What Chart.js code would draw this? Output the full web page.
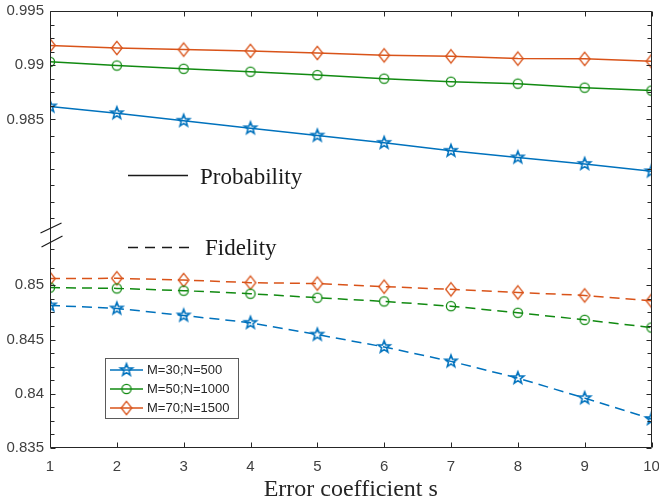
<!DOCTYPE html>
<html><head><meta charset="utf-8">
<script src="https://cdn.jsdelivr.net/npm/chart.js@4"></script>
<style>html,body{margin:0;padding:0;background:#fff}canvas{display:block}</style>
</head><body>
<canvas id="c" width="659" height="502"></canvas>
<script>
// ---------- data ----------
const sValues = [1, 2, 3, 4, 5, 6, 7, 8, 9, 10];
const seriesNames = ['M=30;N=500', 'M=50;N=1000', 'M=70;N=1500'];
const probM30 = [0.98620, 0.98558, 0.98488, 0.98419, 0.98351, 0.98284, 0.98211, 0.98150, 0.98090, 0.98022];
const probM50 = [0.99031, 0.98997, 0.98967, 0.98940, 0.98909, 0.98876, 0.98848, 0.98830, 0.98793, 0.98766];
const probM70 = [0.99183, 0.99159, 0.99144, 0.99132, 0.99113, 0.99091, 0.99082, 0.99061, 0.99059, 0.99037];
const fidM30 = [0.84815, 0.84787, 0.84722, 0.84655, 0.84546, 0.84432, 0.84299, 0.84145, 0.83960, 0.83768];
const fidM50 = [0.84979, 0.84972, 0.84951, 0.84923, 0.84886, 0.84852, 0.84808, 0.84747, 0.84682, 0.84611];
const fidM70 = [0.85062, 0.85065, 0.85049, 0.85025, 0.85016, 0.84988, 0.84963, 0.84935, 0.84907, 0.84858];
const yMajorTicks = [0.995, 0.99, 0.985, 0.85, 0.845, 0.84, 0.835];
const yTickLabels = ['0.995', '0.99', '0.985', '0.85', '0.845', '0.84', '0.835'];
const yMinorTicks = [0.99375, 0.9925, 0.99125, 0.98875, 0.9875, 0.98625, 0.98348, 0.98196, 0.98044, 0.97892, 0.9774, 0.97588,
                     0.85333, 0.85164, 0.84875, 0.8475, 0.84625, 0.84375, 0.8425, 0.84125, 0.83875, 0.8375, 0.83625];
const xTickLabels = ['1', '2', '3', '4', '5', '6', '7', '8', '9', '10'];
const xTitle = 'Error coefficient s';
const styleLegendLabels = ['Probability', 'Fidelity'];

// ---------- broken axis mapping ----------
const BREAK_SHIFT = 0.1197;           // upper segment (0.97x–0.995) drawn shifted down
const Y_MIN = 0.835, Y_MAX = 0.995 - BREAK_SHIFT;
const toAxis = v => (v > 0.9 ? v - BREAK_SHIFT : v);

const COLORS = ['#0072BD', '#118a11', '#D95319'];
const AXIS = '#262626';
const TXT = '#404040';

// ---------- markers ----------
function makeMarker(kind, color) {
  const c = document.createElement('canvas');
  c.width = 18; c.height = 18;
  const g = c.getContext('2d');
  g.strokeStyle = color; g.lineWidth = kind === 'star' ? 1.6 : 1.3; g.lineJoin = 'miter';
  const cx = 9, cy = 9;
  g.beginPath();
  if (kind === 'star') {
    const R = 6.3, r = R * 0.42;
    for (let i = 0; i < 10; i++) {
      const rad = i % 2 === 0 ? R : r;
      const a = -Math.PI / 2 + i * Math.PI / 5;
      const px = cx + rad * Math.cos(a), py = cy + rad * Math.sin(a);
      i === 0 ? g.moveTo(px, py) : g.lineTo(px, py);
    }
    g.closePath();
  } else if (kind === 'circle') {
    g.arc(cx, cy, 4.6, 0, Math.PI * 2);
  } else {
    g.moveTo(cx, cy - 6.6); g.lineTo(cx + 5.3, cy); g.lineTo(cx, cy + 6.6); g.lineTo(cx - 5.3, cy); g.closePath();
  }
  g.stroke();
  return c;
}
const markers = [makeMarker('star', COLORS[0]), makeMarker('circle', COLORS[1]), makeMarker('diamond', COLORS[2])];

function ds(label, vals, i, dashed) {
  return {
    label, data: sValues.map((s, k) => ({x: s, y: toAxis(vals[k])})),
    borderColor: COLORS[i], backgroundColor: COLORS[i], borderWidth: 1.5,
    borderDash: dashed ? [10, 6] : [], pointStyle: markers[i], pointRadius: 6,
    tension: 0, fill: false
  };
}

const datasets = [
  ds(seriesNames[0] + ' ' + styleLegendLabels[0], probM30, 0, false),
  ds(seriesNames[1] + ' ' + styleLegendLabels[0], probM50, 1, false),
  ds(seriesNames[2] + ' ' + styleLegendLabels[0], probM70, 2, false),
  ds(seriesNames[0] + ' ' + styleLegendLabels[1], fidM30, 0, true),
  ds(seriesNames[1] + ' ' + styleLegendLabels[1], fidM50, 1, true),
  ds(seriesNames[2] + ' ' + styleLegendLabels[1], fidM70, 2, true),
];

// ---------- plugin: box, inward ticks, break, annotations, legend ----------
const decor = {
  id: 'decor',
  afterDatasetsDraw(chart) {
    const {ctx, chartArea: ca, scales: {x, y}} = chart;
    const L = Math.round(ca.left) + 0.5, R = Math.round(ca.right) - 0.5;
    const T = Math.round(ca.top) + 0.5, B = Math.round(ca.bottom) - 0.5;
    ctx.save();
    ctx.strokeStyle = AXIS; ctx.lineWidth = 1;
    ctx.beginPath();
    ctx.rect(L, T, R - L, B - T);
    const yt = (v, len) => {
      const py = Math.round(y.getPixelForValue(toAxis(v))) + 0.5;
      ctx.moveTo(L, py); ctx.lineTo(L + len, py);
      ctx.moveTo(R, py); ctx.lineTo(R - len, py);
    };
    yMajorTicks.forEach(v => yt(v, 5));
    yMinorTicks.forEach(v => yt(v, 4));
    sValues.forEach(s => {
      const px = Math.round(x.getPixelForValue(s)) + 0.5;
      ctx.moveTo(px, B); ctx.lineTo(px, B - 5);
      ctx.moveTo(px, T); ctx.lineTo(px, T + 5);
    });
    ctx.stroke();

    // axis break marks
    ctx.lineWidth = 1.2; ctx.strokeStyle = '#1a1a1a';
    ctx.beginPath();
    ctx.moveTo(L - 10, 233); ctx.lineTo(L + 11, 223);
    ctx.moveTo(L - 9, 247); ctx.lineTo(L + 12, 236);
    ctx.stroke();

    // line-style annotations
    ctx.strokeStyle = '#1a1a1a'; ctx.lineWidth = 1.3;
    ctx.beginPath(); ctx.moveTo(128, 175.5); ctx.lineTo(188, 175.5); ctx.stroke();
    ctx.setLineDash([10, 7]);
    ctx.beginPath(); ctx.moveTo(128, 247.5); ctx.lineTo(190, 247.5); ctx.stroke();
    ctx.setLineDash([]);
    ctx.fillStyle = '#1a1a1a';
    ctx.font = '23px "Liberation Serif", "Times New Roman", serif';
    ctx.textBaseline = 'alphabetic'; ctx.textAlign = 'left';
    ctx.fillText(styleLegendLabels[0], 200, 184);
    ctx.fillText(styleLegendLabels[1], 205, 255);

    // series legend box
    const bx = 105.5, by = 358.5, bw = 133, bh = 60;
    ctx.fillStyle = '#fff';
    ctx.fillRect(bx, by, bw, bh);
    ctx.strokeStyle = '#5a5a5a'; ctx.lineWidth = 1;
    ctx.strokeRect(bx, by, bw, bh);
    ctx.font = '13px "Liberation Sans", Arial, sans-serif';
    ctx.textBaseline = 'middle';
    seriesNames.forEach((name, i) => {
      const ry = 370 + i * 19;
      ctx.strokeStyle = COLORS[i]; ctx.lineWidth = 1.5;
      ctx.beginPath(); ctx.moveTo(110, ry); ctx.lineTo(143, ry); ctx.stroke();
      ctx.drawImage(markers[i], 126.5 - 9, ry - 9);
      ctx.fillStyle = '#262626';
      ctx.fillText(name, 147, ry + 0.5);
    });
    ctx.restore();
  }
};

new Chart(document.getElementById('c'), {
  type: 'line',
  data: {datasets},
  options: {
    responsive: false, animation: false, devicePixelRatio: 1,
    layout: {padding: {top: 11, right: 7, left: 0, bottom: 0}},
    plugins: {legend: {display: false}, tooltip: {enabled: false}},
    elements: {line: {borderCapStyle: 'butt'}},
    scales: {
      x: {
        type: 'linear', min: 1, max: 10,
        afterBuildTicks: sc => { sc.ticks = sValues.map(v => ({value: v})); },
        afterFit: sc => { sc.height = 54; sc.paddingLeft = 0; sc.paddingRight = 0; },
        grid: {display: false, drawTicks: false},
        border: {display: false},
        ticks: {padding: 10, color: TXT, font: {family: '"Liberation Sans", Arial, sans-serif', size: 15},
                maxRotation: 0, autoSkip: false, callback: (v, i) => xTickLabels[i]},
        title: {display: true, text: xTitle, color: '#262626', padding: {top: 0, bottom: 0},
                font: {family: '"Liberation Serif", "Times New Roman", serif', size: 24, lineHeight: 1}}
      },
      y: {
        type: 'linear', min: Y_MIN, max: Y_MAX,
        afterBuildTicks: sc => { sc.ticks = yMajorTicks.map(v => ({value: toAxis(v)})); },
        afterFit: sc => { sc.width = 50; sc.paddingTop = 0; sc.paddingBottom = 0; },
        grid: {display: false, drawTicks: false},
        border: {display: false},
        ticks: {padding: 6, color: TXT, font: {family: '"Liberation Sans", Arial, sans-serif', size: 15},
                autoSkip: false, callback: (v, i) => yTickLabels[i]}
      }
    }
  },
  plugins: [decor]
});
</script>
</body></html>
